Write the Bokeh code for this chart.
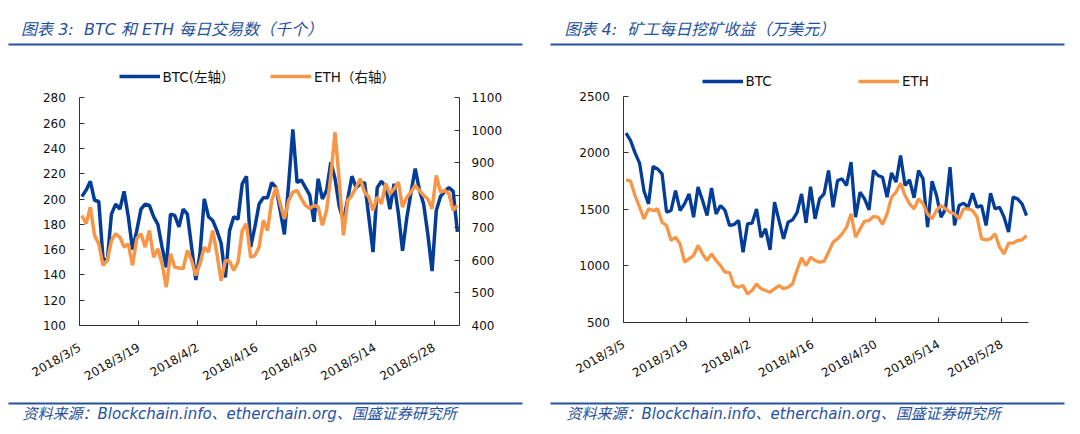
import math
import datetime as dt
from bokeh.plotting import figure
from bokeh.models import Range1d, LinearAxis, FixedTicker, Legend, LegendItem
from bokeh.layouts import row
from bokeh.embed import file_html
from bokeh.resources import INLINE
from bokeh.core.properties import value

# ---------------- data ----------------
start_date = "2018/3/5"
tick_labels = ["2018/3/5", "2018/3/19", "2018/4/2", "2018/4/16",
               "2018/4/30", "2018/5/14", "2018/5/28"]

# Chart 3: daily transactions (thousand)
btc_tx = [202, 207, 214, 199, 198, 153, 151, 188, 196, 192,
          206, 186, 160, 175, 192, 196, 195, 186, 180, 162,
          146, 188, 187, 178, 192, 188, 162, 136, 157, 200,
          186, 183, 175, 165, 138, 175, 186, 184, 212, 218,
          162, 178, 196, 201, 201, 213, 209, 191, 172, 212,
          255, 213, 215, 209, 203, 182, 216, 200, 207, 229,
          216, 194, 183, 200, 218, 209, 212, 213, 186, 158,
          209, 214, 210, 192, 212, 189, 159, 185, 205, 224,
          207, 196, 172, 143, 191, 202, 206, 209, 206, 174]
eth_tx = [738, 713, 764, 677, 651, 585, 600, 661, 682, 672,
          641, 651, 585, 667, 682, 641, 692, 610, 636, 590,
          518, 621, 579, 577, 575, 631, 600, 554, 590, 641,
          626, 692, 621, 538, 600, 598, 569, 595, 692, 713,
          610, 615, 641, 723, 692, 784, 825, 774, 728, 784,
          810, 815, 790, 769, 759, 769, 765, 708, 754, 860,
          994, 846, 677, 784, 800, 825, 851, 810, 795, 754,
          795, 774, 836, 805, 820, 841, 764, 794, 810, 831,
          815, 800, 789, 759, 861, 810, 815, 805, 754, 769]

# Chart 4: miners' daily revenue (10k USD)
btc_rev = [2175, 2110, 2000, 1910, 1660, 1549, 1880, 1859, 1815, 1475,
           1490, 1667, 1490, 1549, 1637, 1431, 1697, 1578, 1445, 1690,
           1460, 1534, 1490, 1357, 1365, 1401, 1120, 1372, 1377, 1504,
           1253, 1327, 1141, 1563, 1401, 1239, 1386, 1407, 1470, 1637,
           1380, 1700, 1416, 1593, 1637, 1844, 1519, 1756, 1770, 1711,
           1918, 1431, 1652, 1593, 1496, 1844, 1800, 1785, 1608, 1823,
           1741, 1977, 1711, 1761, 1602, 1844, 1770, 1342, 1750, 1623,
           1431, 1504, 1874, 1357, 1534, 1555, 1519, 1643, 1519, 1534,
           1357, 1643, 1504, 1519, 1431, 1298, 1608, 1593, 1549, 1445]
eth_rev = [1761, 1750, 1623, 1519, 1416, 1504, 1490, 1504, 1386, 1357,
           1224, 1253, 1194, 1032, 1061, 1091, 1180, 1106, 1047, 1106,
           1047, 1002, 943, 940, 825, 810, 825, 751, 781, 840,
           796, 781, 766, 796, 825, 796, 810, 840, 960, 1070,
           1002, 1076, 1047, 1032, 1040, 1120, 1209, 1239, 1283, 1342,
           1460, 1253, 1327, 1396, 1401, 1436, 1431, 1366, 1460, 1608,
           1652, 1732, 1623, 1549, 1504, 1593, 1549, 1460, 1416, 1490,
           1534, 1504, 1475, 1460, 1416, 1504, 1504, 1490, 1431, 1239,
           1230, 1239, 1283, 1165, 1106, 1200, 1200, 1224, 1230, 1268]

title3 = "图表 3:\u00a0 BTC 和 ETH 每日交易数（千个）"
title4 = "图表 4:\u00a0 矿工每日挖矿收益（万美元）"
source = "资料来源：Blockchain.info、etherchain.org、国盛证券研究所"
leg3 = ["BTC(左轴）", "ETH（右轴）"]
leg4 = ["BTC", "ETH"]

# ---------------- style ----------------
FONT = "DejaVu Sans, Noto Sans CJK SC"
BLUE = "#033d97"
ORANGE = "#f79646"
HEAD = "#24509e"
AX = "#333333"

def parse(s):
    y, m, d = map(int, s.split("/"))
    return dt.date(y, m, d)

d0 = parse(start_date)
n_days = len(btc_tx)
xs = [i + 0.5 for i in range(n_days)]          # category centres
tick_pos = [(parse(t) - d0).days for t in tick_labels]
overrides = {p: t for p, t in zip(tick_pos, tick_labels)}

PAGE_Y0, PAGE_Y1 = 0, 432     # canvas top / bottom in page pixels


def lin_range(c0, c1, f0, f1, v0, v1):
    """range whose v0..v1 land on pixels f0..f1 of a canvas spanning c0..c1"""
    s = (f1 - f0) / (v1 - v0)
    return Range1d(v0 - (f0 - c0) / s, v1 + (c1 - f1) / s)


def y_range_for(fy_top, fy_bot, lo, hi):
    s = (fy_bot - fy_top) / (hi - lo)
    return Range1d(lo - (PAGE_Y1 - fy_bot) / s, hi + (fy_top - PAGE_Y0) / s)


def style_axis(ax):
    ax.axis_line_color = AX
    ax.axis_line_width = 1
    ax.major_tick_in = 5
    ax.major_tick_out = 0
    ax.major_tick_line_color = AX
    ax.minor_tick_line_color = None
    ax.major_label_text_font = FONT
    ax.major_label_text_font_size = "12px"
    ax.major_label_text_color = "#111111"


def panel(px0, px1, fx0, fx1, fy_top, fy_bot, ylo, yhi, yticks):
    W = px1 - px0
    H = PAGE_Y1 - PAGE_Y0
    xr = lin_range(px0, px1, fx0, fx1, 0, n_days)
    yr = y_range_for(fy_top, fy_bot, ylo, yhi)
    p = figure(width=W, height=H, x_range=xr, y_range=yr, min_border=0,
               x_axis_location=None, y_axis_location=None,
               output_backend="svg", toolbar_location=None)
    p.grid.visible = False
    p.outline_line_color = None
    p.border_fill_color = None
    p.extra_x_ranges = {"px": Range1d(px0, px1)}
    p.extra_y_ranges = {"py": Range1d(PAGE_Y1, PAGE_Y0)}

    xa = LinearAxis(ticker=FixedTicker(ticks=tick_pos), fixed_location=ylo,
                    bounds=(0, n_days))
    style_axis(xa)
    xa.major_label_overrides = overrides
    xa.major_label_orientation = math.pi / 6
    xa.major_label_standoff = 21
    p.add_layout(xa, "below")

    ya = LinearAxis(ticker=FixedTicker(ticks=yticks), fixed_location=0,
                    bounds=(ylo, yhi))
    style_axis(ya)
    ya.major_label_standoff = 14
    p.add_layout(ya, "left")
    return p


def decorate(p, tx, ty, title, lx0, lx1, sx):
    kw = dict(x_range_name="px", y_range_name="py")
    p.text(x=[tx], y=[ty], text=[title], text_font=value(FONT),
           text_font_size=value("16px"), text_font_style="italic",
           text_color=HEAD, text_baseline="middle", text_align="left", **kw)
    p.segment(x0=[lx0], y0=[44], x1=[lx1], y1=[44], line_color=HEAD,
              line_width=2, **kw)
    p.segment(x0=[lx0], y0=[403], x1=[lx1], y1=[403], line_color=HEAD,
              line_width=2, **kw)
    p.text(x=[sx], y=[413], text=[source], text_font=value(FONT),
           text_font_size=value("15px"), text_font_style="italic",
           text_color=HEAD, text_baseline="middle", text_align="left", **kw)


def add_legend(p, px0, items, page_xs, page_y_bottom):
    for (lab, r), x in zip(items, page_xs):
        lg = Legend(items=[LegendItem(label=lab, renderers=[r])],
                    location=(x - px0, PAGE_Y1 - page_y_bottom),
                    orientation="horizontal",
                    glyph_width=41, glyph_height=16, label_height=16,
                    label_standoff=3, padding=0, margin=0, spacing=0,
                    border_line_color=None, background_fill_alpha=0,
                    label_text_font=FONT, label_text_font_size="13.5px",
                    label_text_color="#111111")
        p.add_layout(lg, "center")


# ---------------- left panel (page x 0..540) ----------------
pl = panel(0, 540, 79.3, 459, 97.3, 325, 100, 280, list(range(100, 281, 20)))
pl.extra_y_ranges["eth"] = y_range_for(97.3, 325, 400, 1100)
ax_r = LinearAxis(y_range_name="eth", ticker=FixedTicker(ticks=list(range(400, 1101, 100))),
                  fixed_location=n_days, bounds=(400, 1100))
style_axis(ax_r)
ax_r.major_label_standoff = 12
pl.add_layout(ax_r, "right")
r1 = pl.line(xs, btc_tx, line_color=BLUE, line_width=3.5)
r2 = pl.line(xs, eth_tx, line_color=ORANGE, line_width=3.5, y_range_name="eth")
add_legend(pl, 0, [(leg3[0], r1), (leg3[1], r2)], [118.5, 270], 86)
decorate(pl, 20.6, 29, title3, 8, 522, 22)

# ---------------- right panel (page x 540..1080) ----------------
pr = panel(540, 1080, 623.3, 1028.3, 96, 321.7, 500, 2500, list(range(500, 2501, 500)))
r3 = pr.line(xs, btc_rev, line_color=BLUE, line_width=3.3)
r4 = pr.line(xs, eth_rev, line_color=ORANGE, line_width=3.3)
add_legend(pr, 540, [(leg4[0], r3), (leg4[1], r4)], [701.5, 858], 88.5)
decorate(pr, 564, 29, title4, 550, 1064, 566)

layout = row(pl, pr)
open("out.html", "w").write(file_html(layout, INLINE))
